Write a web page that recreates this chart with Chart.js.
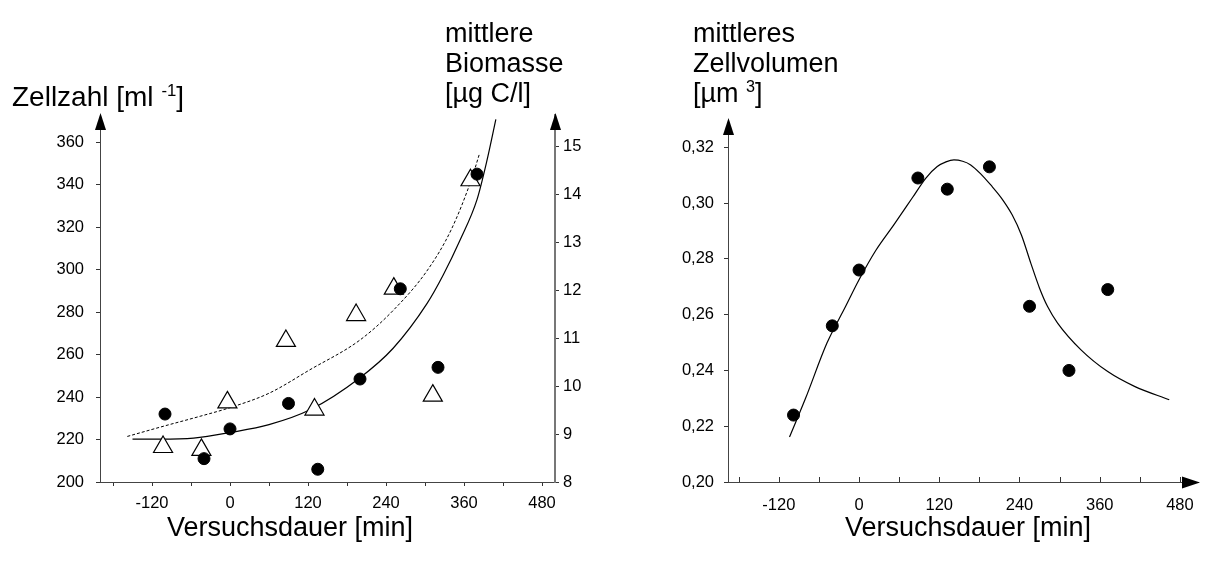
<!DOCTYPE html>
<html>
<head>
<meta charset="utf-8">
<script src="https://cdn.jsdelivr.net/npm/chart.js@4/dist/chart.umd.min.js"></script>
<style>
  body { margin: 0; background: #fff; width: 1223px; height: 569px; position: relative; overflow: hidden; }
  canvas { position: absolute; top: 0; }
  .t { position: absolute; font-family: "Liberation Sans", Arial, sans-serif; font-size: 27px; line-height: 30px; color: #000; white-space: nowrap; }
  .t sup { font-size: 0.6em; vertical-align: 0.6em; line-height: 0; }
</style>
</head>
<body>
<canvas id="links" width="612" height="569" style="left:0"></canvas>
<canvas id="rechts" width="611" height="569" style="left:612px"></canvas>

<div class="t" style="left:12px; top:82px; font-size:28px">Zellzahl [ml <sup>-1</sup>]</div>
<div class="t" style="left:445px; top:18px">mittlere<br>Biomasse<br>[µg C/l]</div>
<div class="t" style="left:693px; top:18px">mittleres<br>Zellvolumen<br>[µm <sup>3</sup>]</div>
<div class="t" style="left:167px; top:512px">Versuchsdauer [min]</div>
<div class="t" style="left:845px; top:512px">Versuchsdauer [min]</div>

<script>
// Achsen
const xTicks = [-180, -120, -60, 0, 60, 120, 180, 240, 300, 360, 420, 480];
const zellzahlTicks = [200, 220, 240, 260, 280, 300, 320, 340, 360];
const biomasseTicks = [8, 9, 10, 11, 12, 13, 14, 15];
const volumenTicks = [0.20, 0.22, 0.24, 0.26, 0.28, 0.30, 0.32];

// Zellzahl (Punkte)
const zeitZellzahl = [-100, -40, 0, 90, 135, 200, 262, 320, 380];
const zellzahl = [232, 211, 225, 237, 206, 248.5, 291, 254, 345];

// Biomasse (Dreiecke)
const zeitBiomasse = [-103, -44, -4, 86, 130, 194, 252, 312, 370];
const biomasse = [8.73, 8.67, 9.66, 10.94, 9.51, 11.48, 12.03, 9.80, 14.29];

// Ausgleichskurven
const fitZellzahlX = [-150, -108, -56, 0, 60, 123, 199, 251, 303, 328, 354, 380, 395, 409];
const fitZellzahlY = [220.2, 220.2, 220.7, 223.3, 227, 234, 248.9, 263, 284, 297.5, 314, 333, 351, 370.8];
const fitBiomasseX = [-158, -103, -46, 0, 60, 123, 200, 252, 304, 340, 371, 384];
const fitBiomasseY = [8.95, 9.16, 9.37, 9.55, 9.85, 10.34, 10.96, 11.59, 12.42, 13.25, 14.29, 14.85];

// Zellvolumen
const zeitVolumen = [-98, -40, 0, 88, 132, 195, 255, 314, 372];
const volumen = [0.224, 0.256, 0.276, 0.309, 0.305, 0.313, 0.263, 0.240, 0.269];
const fitVolumenX = [-104, -80, -48, -20, 0, 25, 52, 80, 100, 117, 130, 142, 155, 167, 182, 197, 213, 229, 243, 257, 270, 282, 297, 332, 372, 412, 464];
const fitVolumenY = [0.2161, 0.230, 0.2498, 0.263, 0.2725, 0.283, 0.2922, 0.302, 0.309, 0.3131, 0.3148, 0.3155, 0.3150, 0.3137, 0.3105, 0.3065, 0.3018, 0.2958, 0.2885, 0.2784, 0.2695, 0.2629, 0.257, 0.2474, 0.2396, 0.2343, 0.2295];

const punkte = (xs, ys) => xs.map((x, i) => ({ x: x, y: ys[i] }));
const schrift = { family: "'Liberation Sans', Arial, sans-serif", size: 16.5 };

// Pfeile an den Achsenenden, Ticks nach innen
const pfeilPlugin = {
    id: 'pfeile',
    afterDraw(chart, args, opts) {
        const ctx = chart.ctx;
        const a = chart.chartArea;
        ctx.save();
        ctx.fillStyle = '#000';
        ctx.strokeStyle = '#333';
        ctx.lineWidth = 1;
        if (opts.innenTicks) {
            const sx = chart.scales.x;
            xTicks.forEach(v => {
                const x = Math.round(sx.getPixelForValue(v)) + 0.5;
                ctx.beginPath();
                ctx.moveTo(x, a.bottom);
                ctx.lineTo(x, a.bottom - 5);
                ctx.stroke();
            });
        }
        (opts.liste || []).forEach(p => {
            ctx.beginPath();
            if (p === 'links' || p === 'rechts') {
                const x = (p === 'links' ? a.left : a.right) + 0.5;
                ctx.moveTo(x, a.top - 2);
                ctx.lineTo(x - 5.5, a.top + 15);
                ctx.lineTo(x + 5.5, a.top + 15);
            } else {
                const y = a.bottom + 0.5;
                ctx.moveTo(a.right + 2, y);
                ctx.lineTo(a.right - 16, y - 6);
                ctx.lineTo(a.right - 16, y + 6);
            }
            ctx.closePath();
            ctx.fill();
        });
        ctx.restore();
    }
};

function achse(extra) {
    return Object.assign({
        type: 'linear',
        grid: { drawOnChartArea: false, tickLength: 4, color: '#333' },
        border: { color: '#444', width: 1 },
        ticks: { color: '#000', font: schrift, autoSkip: false, maxRotation: 0, padding: 4 }
    }, extra);
}

new Chart(document.getElementById('links').getContext('2d'), {
    type: 'scatter',
    data: {
        datasets: [
            {
                label: 'Zellzahl',
                data: punkte(zeitZellzahl, zellzahl),
                yAxisID: 'y',
                pointStyle: 'circle',
                pointRadius: 6,
                backgroundColor: '#000',
                borderColor: '#000',
                order: 1
            },
            {
                label: 'Biomasse',
                data: punkte(zeitBiomasse, biomasse),
                yAxisID: 'y2',
                pointStyle: 'triangle',
                pointRadius: 11,
                backgroundColor: '#fff',
                borderColor: '#000',
                borderWidth: 1.2,
                order: 2
            },
            {
                label: 'Zellzahl Kurve',
                data: punkte(fitZellzahlX, fitZellzahlY),
                yAxisID: 'y',
                showLine: true,
                pointRadius: 0,
                borderColor: '#000',
                borderWidth: 1.2,
                cubicInterpolationMode: 'monotone',
                order: 3
            },
            {
                label: 'Biomasse Kurve',
                data: punkte(fitBiomasseX, fitBiomasseY),
                yAxisID: 'y2',
                showLine: true,
                pointRadius: 0,
                borderColor: '#000',
                borderWidth: 1,
                borderDash: [3, 2],
                cubicInterpolationMode: 'monotone',
                order: 4
            }
        ]
    },
    options: {
        responsive: false,
        animation: false,
        events: [],
        layout: { padding: { top: 115, left: 0, right: 0, bottom: 0 } },
        plugins: { legend: { display: false }, tooltip: { enabled: false }, pfeile: { liste: ['links', 'rechts'] } },
        scales: {
            x: achse({
                position: 'bottom', min: -200, max: 500,
                afterBuildTicks: s => { s.ticks = xTicks.map(v => ({ value: v })); },
                afterFit: s => { s.height = 87; },
                ticks: { color: '#000', font: schrift, autoSkip: false, maxRotation: 0, padding: 8,
                    callback: v => (v % 120 === 0 ? v : '') }
            }),
            y: achse({
                position: 'left', min: 200, max: 372.85,
                afterBuildTicks: s => { s.ticks = zellzahlTicks.map(v => ({ value: v })); },
                afterFit: s => { s.width = 100; },
                ticks: { color: '#000', font: schrift, autoSkip: false, padding: 12 }
            }),
            y2: achse({
                position: 'right', min: 8, max: 15.65,
                border: { color: '#777', width: 2 },
                afterBuildTicks: s => { s.ticks = biomasseTicks.map(v => ({ value: v })); },
                afterFit: s => { s.width = 57; }
            })
        }
    },
    plugins: [pfeilPlugin]
});

new Chart(document.getElementById('rechts').getContext('2d'), {
    type: 'scatter',
    data: {
        datasets: [
            {
                label: 'Zellvolumen',
                data: punkte(zeitVolumen, volumen),
                pointStyle: 'circle',
                pointRadius: 6,
                backgroundColor: '#000',
                borderColor: '#000',
                order: 1
            },
            {
                label: 'Zellvolumen Kurve',
                data: punkte(fitVolumenX, fitVolumenY),
                showLine: true,
                pointRadius: 0,
                borderColor: '#000',
                borderWidth: 1.2,
                cubicInterpolationMode: 'monotone',
                order: 2
            }
        ]
    },
    options: {
        responsive: false,
        animation: false,
        events: [],
        layout: { padding: { top: 120, left: 0, right: 25, bottom: 0 } },
        plugins: { legend: { display: false }, tooltip: { enabled: false }, pfeile: { liste: ['links', 'x'], innenTicks: true } },
        scales: {
            x: achse({
                position: 'bottom', min: -196, max: 507,
                grid: { drawOnChartArea: false, drawTicks: false, color: '#333' },
                afterBuildTicks: s => { s.ticks = xTicks.map(v => ({ value: v })); },
                afterFit: s => { s.height = 87; },
                ticks: { color: '#000', font: schrift, autoSkip: false, maxRotation: 0, padding: 14,
                    callback: v => (v % 120 === 0 ? v : '') }
            }),
            y: achse({
                position: 'left', min: 0.2, max: 0.3298,
                afterBuildTicks: s => { s.ticks = volumenTicks.map(v => ({ value: v })); },
                afterFit: s => { s.width = 116; },
                ticks: { color: '#000', font: schrift, autoSkip: false, padding: 10,
                    callback: v => v.toFixed(2).replace('.', ',') }
            })
        }
    },
    plugins: [pfeilPlugin]
});
</script>
</body>
</html>
